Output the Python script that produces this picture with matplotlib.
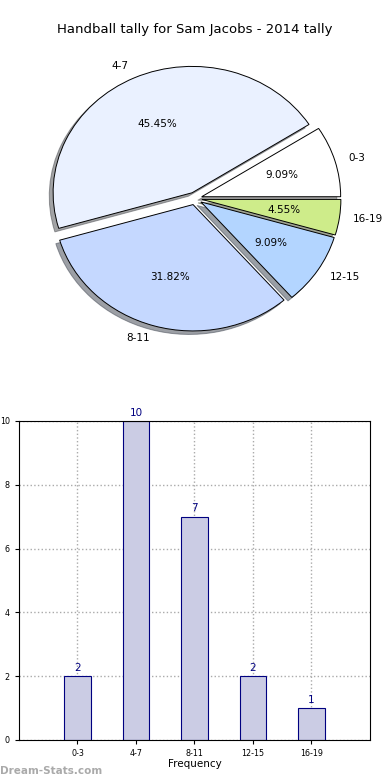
import matplotlib
matplotlib.use('Agg')
from matplotlib import pyplot as plt

# tally data
groups = ['0-3', '4-7', '8-11', '12-15', '16-19']
counts = [2, 10, 7, 2, 1]
pie_colors = ['#ffffff', '#eaf1ff', '#c5d8ff', '#b3d5ff', '#ceec8a']

fig = plt.figure(figsize=(3.9, 7.8), dpi=100)

# pie on top (slightly squashed, like the original)
ax1 = fig.add_axes([0.0545, 0.543, 0.891, 0.405])
wedges, texts, autotexts = ax1.pie(counts, labels=groups, colors=pie_colors,
                                   explode=[0.05] * len(counts), shadow=True,
                                   autopct='%.2f%%', startangle=0,
                                   wedgeprops={'edgecolor': 'black', 'linewidth': 0.7},
                                   textprops={'fontsize': 7.5})
ax1.set_aspect('auto')
ax1.set_xlim(-1.25, 1.25)
ax1.set_ylim(-1.25, 1.25)
fig.text(0.5, 1 - 30 / 780, 'Handball tally for Sam Jacobs - 2014 tally',
         ha='center', va='center', fontsize=9.5)

# bar chart below
ax2 = fig.add_axes([0.0487, 0.0513, 0.9, 0.409])
x = range(len(groups))
ax2.bar(x, counts, width=0.45, color='#cbcce4', edgecolor='#000080', linewidth=0.8, zorder=2)
for i, c in zip(x, counts):
    ax2.text(i, c + 0.1, str(c), ha='center', va='bottom', color='#000080', fontsize=7.5)
ax2.set_xlim(-1, 5)
ax2.set_ylim(0, 10)
ax2.set_xticks(list(x))
ax2.set_xticklabels(groups)
ax2.set_yticks([0, 2, 4, 6, 8, 10])
ax2.tick_params(labelsize=5.8, length=3)
ax2.grid(True, linestyle=':', color='#aaaaaa', linewidth=1, zorder=0)
ax2.set_axisbelow(True)
ax2.set_xlabel('Frequency', fontsize=7.5, labelpad=1)
ax2.set_ylabel('Handball tally', fontsize=7.5)
ax2.yaxis.set_label_coords(-0.062, 0.5)

fig.text(0.0, 0.012, 'Dream-Stats.com', color='#aaaaaa', fontsize=7.5,
         fontweight='bold', ha='left', va='center')

plt.savefig('out.png', dpi=100)
plt.close()
